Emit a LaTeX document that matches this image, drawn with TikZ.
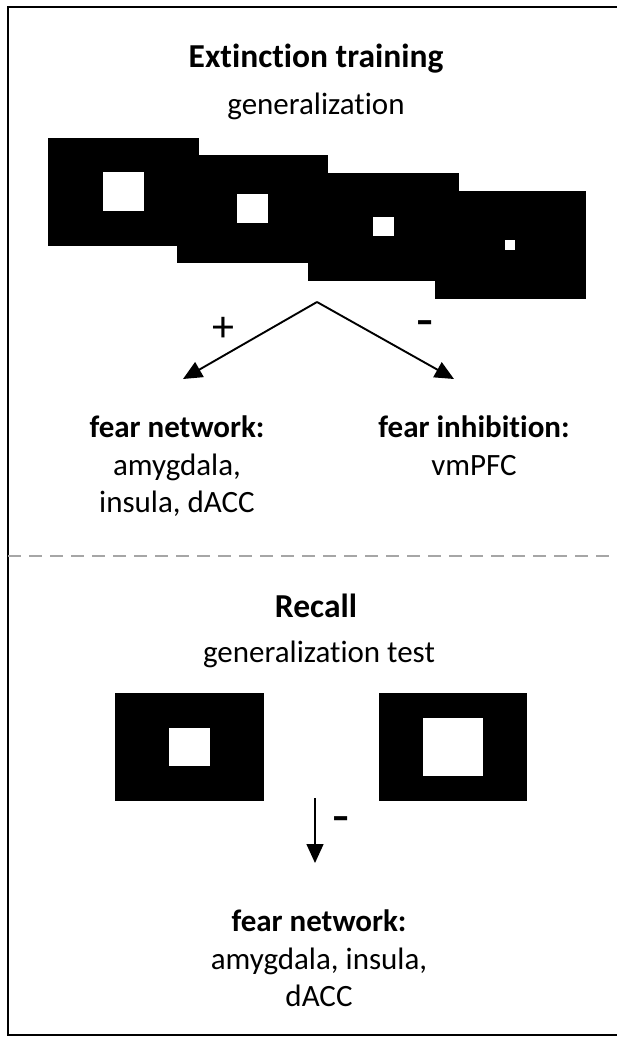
\documentclass[tikz,border=0pt]{standalone}
\usepackage{fontspec}
\setmainfont{Carlito}[Ligatures=NoCommon]
\usetikzlibrary{arrows.meta}
\begin{document}
\begin{tikzpicture}[x=1pt,y=-1pt,
    stim/.style={fill=black,inner sep=0pt,minimum width=151pt,minimum height=108pt},
    hole/.style={fill=white,inner sep=0pt},
    head/.style={font=\fontsize{33.5}{40}\bfseries\selectfont,anchor=base,inner sep=0pt},
    sub/.style={font=\fontsize{31}{37.5}\selectfont,anchor=base,inner sep=0pt},
    area/.style={font=\fontsize{31}{37.5}\selectfont,align=center,anchor=north,inner sep=0pt},
    sign/.style={font=\fontsize{44}{50}\selectfont,inner sep=0pt},
    neg/.style={font=\fontsize{56}{60}\selectfont,inner sep=0pt},
    arr/.style={-{Triangle[length=19pt,width=17pt]},line width=1.9pt}]
  \useasboundingbox (0,0) rectangle (617,1038);
  \draw[line width=1.8pt] (640,7) -- (8,7) -- (8,1035) -- (640,1035);
  \draw[gray!70,line width=1.5pt,dash pattern=on 13pt off 8pt] (8,556) -- (640,556);
  \node[head] (ext) at (316,68) {Extinction training};
  \node[sub] (gen) at (316,115) {generalization};
  \node[stim] (s1) at (123.5,191.5) {};
  \node[stim] (s2) at (252.5,208.5) {};
  \node[stim] (s3) at (383,226.5) {};
  \node[stim] (s4) at (510,244.5) {};
  \node[hole,minimum width=41pt,minimum height=39pt] (h1) at (s1) {};
  \node[hole,minimum width=31pt,minimum height=29pt] (h2) at (s2) {};
  \node[hole,minimum width=21pt,minimum height=19pt] (h3) at (s3) {};
  \node[hole,minimum size=10pt] (h4) at (s4) {};
  \coordinate (split) at (317,302);
  \coordinate (tipa) at (183,379);
  \coordinate (tipb) at (454,379);
  \draw[arr] (split) to (tipa);
  \draw[arr] (split) to (tipb);
  \node[sign] (plus) at (223,329) {+};
  \node[neg] (minus) at (425,330) {-};
  \node[area] (fear) at (177,416) {\textbf{fear network:}\\amygdala,\\insula, dACC};
  \node[area] (inhib) at (474,416) {\textbf{fear inhibition:}\\vmPFC};
  \node[head] (rec) at (316,617) {Recall};
  \node[sub] (test) at (319,662) {generalization test};
  \node[stim,minimum width=149pt] (t1) at (189.5,747) {};
  \node[stim,minimum width=148pt] (t2) at (453,747) {};
  \node[hole,minimum width=41pt,minimum height=38pt] (g1) at (t1) {};
  \node[hole,minimum width=60pt,minimum height=58pt] (g2) at (t2) {};
  \coordinate (top) at (315,798);
  \coordinate (tipc) at (315,863);
  \draw[arr,line width=1.5pt] (top) to (tipc);
  \node[neg] (minus2) at (341,826) {-};
  \node[area] (fear2) at (319,910) {\textbf{fear network:}\\amygdala, insula,\\dACC};
\end{tikzpicture}
\end{document}
